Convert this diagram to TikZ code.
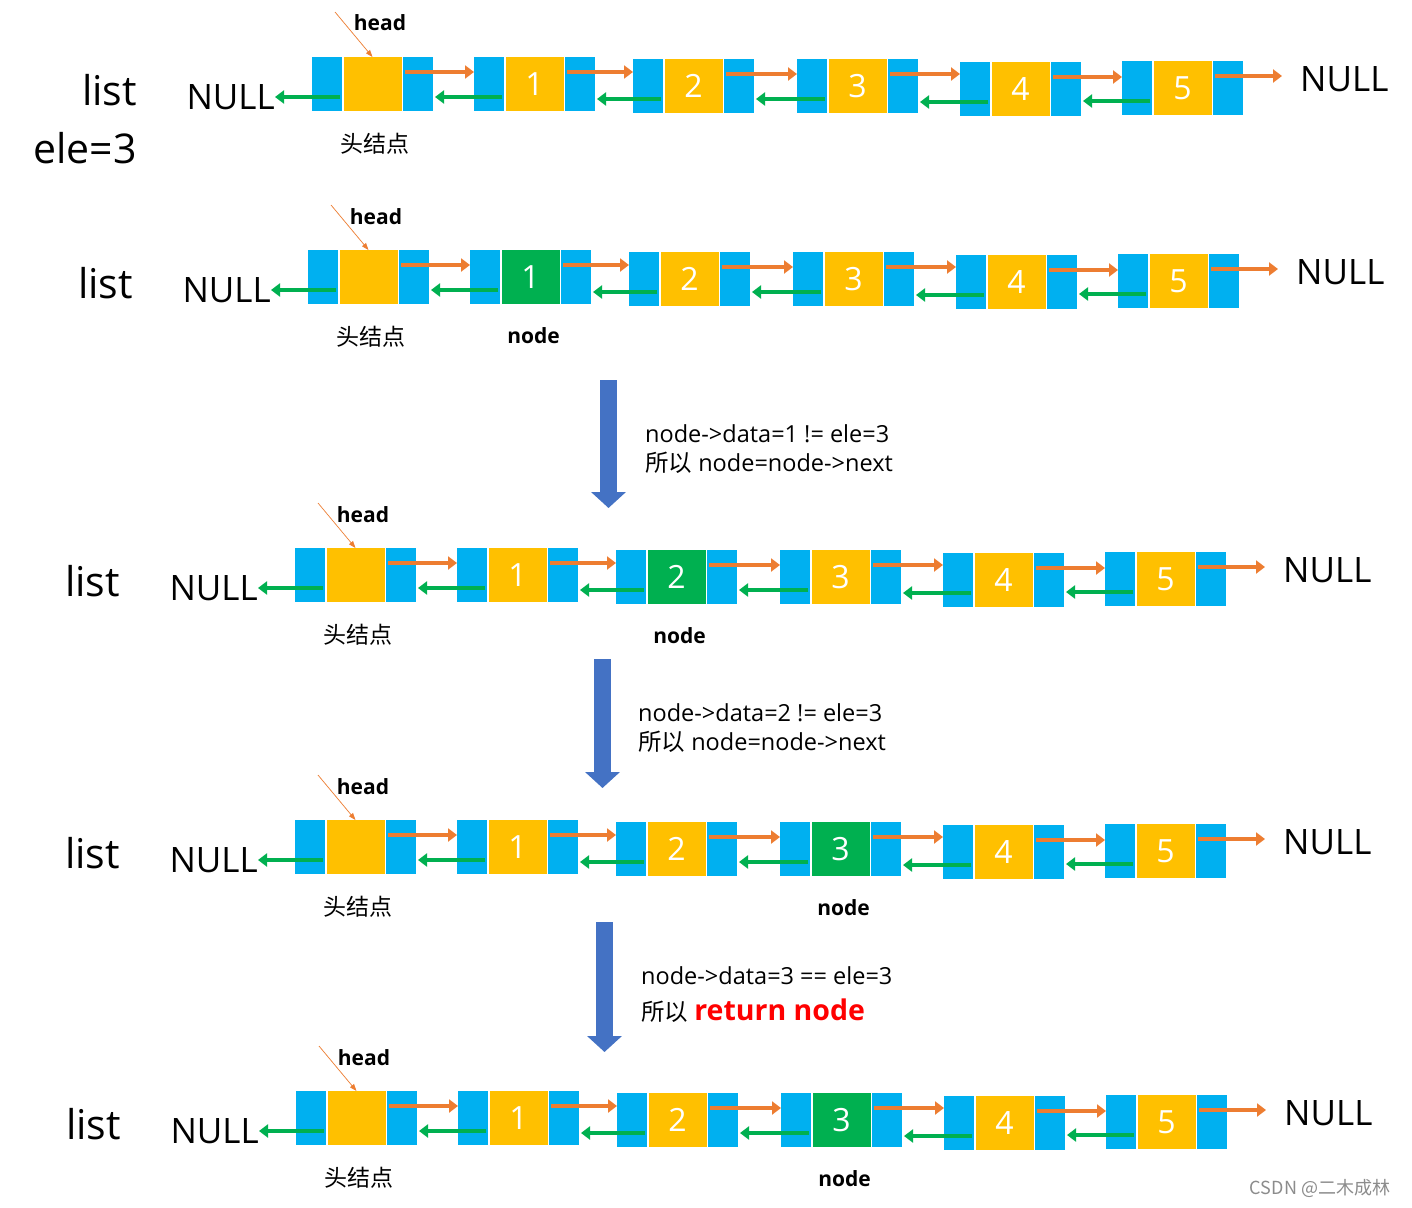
\documentclass[tikz,border=0pt]{standalone}
\usepackage{fontspec}
\setmainfont{Open Sans}
\newfontfamily\cjk{Noto Sans CJK SC}
\usepackage{xcolor}
\usetikzlibrary{arrows.meta,positioning,calc}
\definecolor{cellblue}{HTML}{00B0F0}
\definecolor{cellyellow}{HTML}{FFC000}
\definecolor{cellgreen}{HTML}{00B050}
\definecolor{nextorange}{HTML}{ED7D31}
\definecolor{prevgreen}{HTML}{00B050}
\definecolor{stepblue}{HTML}{4472C4}
\colorlet{datfill}{cellyellow}

\begin{document}
\begin{tikzpicture}[x=1pt,y=-1pt,
    ptr/.style={fill=cellblue,minimum width=30pt,minimum height=54pt,inner sep=0pt,outer sep=0pt},
    dat/.style={fill=datfill,minimum width=58pt,minimum height=54pt,inner sep=0pt,outer sep=0pt,text=white,font=\fontsize{32}{32}\selectfont},
    nextarr/.style={draw=nextorange,line width=4.5pt,-{Triangle[length=9pt,width=13pt]}},
    prevarr/.style={draw=prevgreen,line width=4.5pt,-{Triangle[length=9pt,width=13pt]}},
    headptr/.style={draw=nextorange,line width=0.7pt,-{Triangle[length=7pt,width=5pt]}},
    stepdown/.style={draw=stepblue,line width=17pt,-{Triangle[length=16pt,width=34pt]}},
    listtxt/.style={font=\fontsize{41}{41}\selectfont,inner sep=0pt},
    nulltxt/.style={font=\fontsize{35}{35}\selectfont,inner sep=0pt},
    cnlbl/.style={font=\fontsize{23}{23}\selectfont\cjk,inner sep=0pt},
    boldlbl/.style={font=\fontsize{21}{21}\selectfont\bfseries,inner sep=0pt},
    note/.style={font=\fontsize{23.5}{23.5}\selectfont,inner sep=0pt,anchor=base west}]
    \fill[white] (0,0) rectangle (1412,1207);
    \useasboundingbox (0,0) rectangle (1412,1207);

    % five snapshots of the list, node = green cell
    \foreach \r/\ox/\oy/\g in {1/0/0/9,2/-4/193/1,3/-17/491/2,4/-17/763/3,5/-16/1034/3}{
      \begin{scope}[shift={(\ox,\oy)}]
        \node[listtxt,anchor=east] (list\r) at (137,90) {list};
        \node[nulltxt,anchor=east] (nl\r) at (275,97) {NULL};
        \node[nulltxt,anchor=west] (nr\r) at (1300,79) {NULL};
        \foreach \i/\x/\y in {0/312/57,1/474/57,2/633/59,3/797/59,4/960/62,5/1122/61}{
          \ifnum\i=\g \colorlet{datfill}{cellgreen}\else\colorlet{datfill}{cellyellow}\fi
          \node[ptr,anchor=north west] (r\r-\i-a) at (\x,\y) {};
          \node[dat,right=1.5pt of r\r-\i-a] (r\r-\i-b) {\ifnum\i>0 \i\fi};
          \node[ptr,right=1.5pt of r\r-\i-b] (r\r-\i-c) {};
        }
        % next / prev pointers
        \foreach \i [count=\p from 0] in {1,...,5}{
          \coordinate (o\r\i) at ([shift={(2,15)}]r\r-\p-c.north west);
          \draw[nextarr] (o\r\i) -- (o\r\i -| r\r-\i-a.west);
          \coordinate (g\r\i) at ([shift={(-2,40)}]r\r-\i-a.north east);
          \draw[prevarr] (g\r\i) -- ($(g\r\i -| r\r-\p-c.east)+(2,0)$);
        }
        \coordinate (g\r0) at ([shift={(-2,40)}]r\r-0-a.north east);
        \draw[prevarr] (g\r0) -- (g\r0 -| nl\r.east);
        \coordinate (o\r6) at ([shift={(2,15)}]r\r-5-c.north west);
        \draw[nextarr] (o\r6) -- ($(o\r6 -| nr\r.west)+(-18,0)$);
        % head
        \node[boldlbl,anchor=base] (hd\r) at (380,31) {head};
        \coordinate (hp\r) at (335,12);
        \draw[headptr] (hp\r) -- (r\r-0-b.north);
        \node[cnlbl] (hn\r) at (375,144) {头结点};
        \ifnum\g<9 \node[boldlbl,below=23pt of r\r-\g-b,xshift=3pt] (nd\r) {node};\fi
      \end{scope}
    }
    \node[font=\fontsize{41}{41}\selectfont,inner sep=0pt,anchor=east] (ele) at (137,148) {ele=3};

    % steps
    \coordinate (s1a) at (608.5,380);
    \coordinate (s1b) at (608.5,508);
    \draw[stepdown] (s1a) -- (s1b);
    \node[note] (t1a) at (645,442) {node->data=1 != ele=3};
    \node[note] (t1b) at (645,471) {{\cjk 所以} node=node->next};

    \coordinate (s2a) at (602.5,659);
    \coordinate (s2b) at (602.5,788);
    \draw[stepdown] (s2a) -- (s2b);
    \node[note] (t2a) at (638,721) {node->data=2 != ele=3};
    \node[note] (t2b) at (638,750) {{\cjk 所以} node=node->next};

    \coordinate (s3a) at (604.5,922);
    \coordinate (s3b) at (604.5,1052);
    \draw[stepdown] (s3a) -- (s3b);
    \node[note] (t3a) at (641,984) {node->data=3 == ele=3};
    \node[note] (t3b) at (641,1020) {{\cjk 所以} \textcolor{red}{\fontsize{28.5}{28.5}\selectfont\bfseries return node}};

    \node[font=\fontsize{18}{18}\selectfont\cjk,text=black!45,inner sep=0pt] (mark) at (1320,1188) {CSDN @二木成林};
\end{tikzpicture}
\end{document}
